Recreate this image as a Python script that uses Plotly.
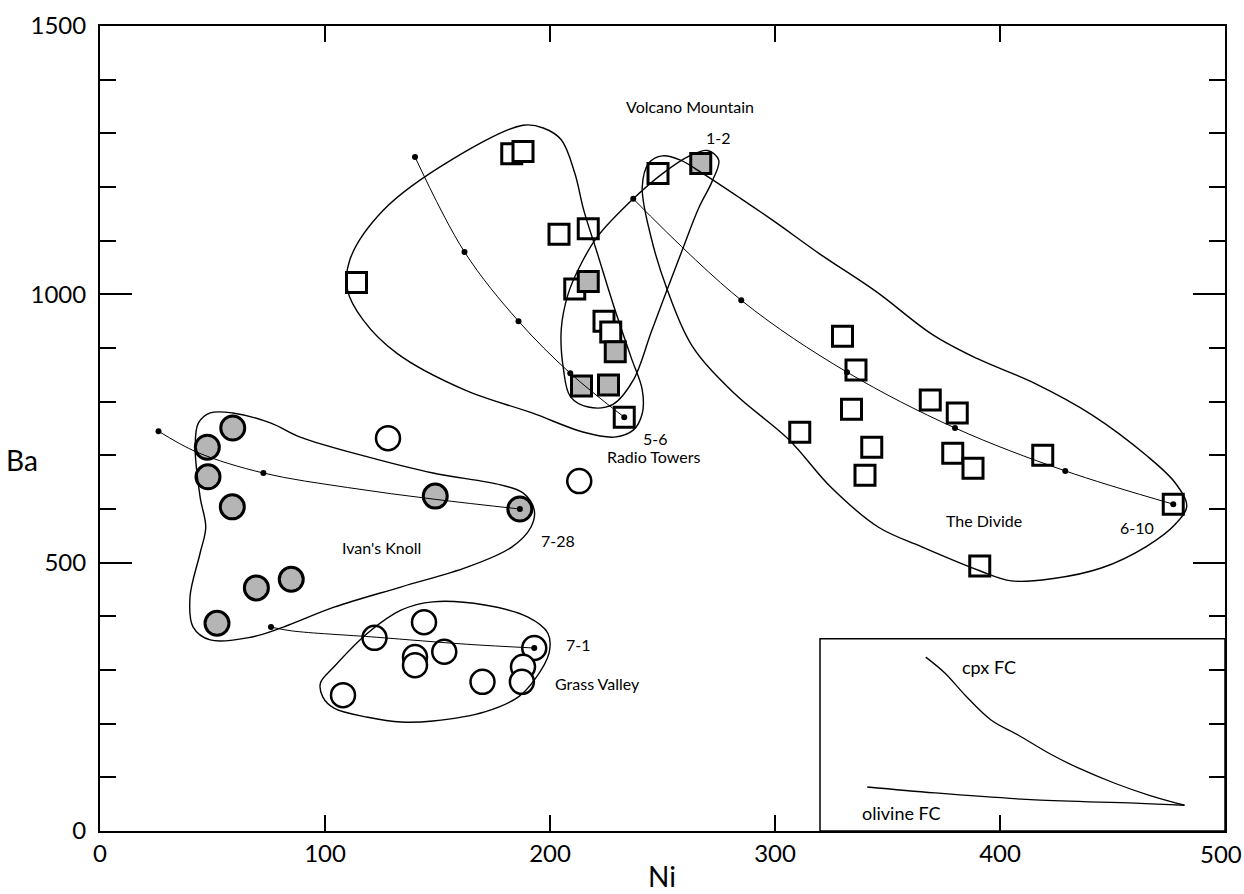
import plotly.graph_objects as go

# ---------------- data (Ni ppm, Ba ppm) ----------------
open_sq_ni = [114, 183, 188, 204, 217, 211, 224, 227, 233, 248,
              330, 336, 334, 311, 343, 340, 369, 381, 379, 388, 419, 391, 477]
open_sq_ba = [1022, 1262, 1266, 1112, 1122, 1010, 950, 930, 771, 1225,
              922, 859, 786, 743, 715, 663, 803, 779, 704, 676, 700, 494, 609]
shaded_sq_ni = [217, 229, 214, 226, 267]
shaded_sq_ba = [1024, 893, 829, 831, 1244]

open_ci_ni = [128, 213, 144, 122, 140, 140, 153, 193, 188, 187.5, 170, 108]
open_ci_ba = [732, 652, 389, 360, 324, 309, 334, 341, 306, 278, 278, 253]
shaded_ci_ni = [59, 47.7, 48, 58.8, 149, 186.6, 85, 69.5, 52]
shaded_ci_ba = [751, 715, 660, 604, 624, 600, 469, 453, 387]

# fractional-crystallisation model curves (line) and their step dots
fc_ivan_ni = [26, 43, 72.6, 110, 149, 186.6]
fc_ivan_ba = [745, 706, 667, 640, 618, 600]
fc_ivan_dot_ni = [26, 72.6, 186.6]
fc_ivan_dot_ba = [745, 667, 600]

fc_grass_ni = [76, 85, 123, 163, 193]
fc_grass_ba = [380, 373, 361, 348, 341]
fc_grass_dot_ni = [76, 193]
fc_grass_dot_ba = [380, 341]

fc_radio_ni = [140, 162, 186, 209, 233]
fc_radio_ba = [1256, 1079, 950, 853, 771]

fc_divide_ni = [237, 285, 332, 380, 429, 477]
fc_divide_ba = [1178, 989, 855, 751, 671, 609]

# group envelopes (closed outlines)
env_big_ni = [188, 156, 126, 111, 110, 117, 132, 162, 192, 215, 228.5, 237, 241, 241,
              236, 228.5, 221, 215, 211, 205, 197, 188]
env_big_ba = [1315, 1250, 1157, 1064, 1008, 952, 890, 822, 779, 743, 734, 747, 778, 822,
              883, 976, 1077, 1157, 1226, 1288, 1310, 1315]

env_radio_ni = [206, 205, 208, 213, 221, 237, 250, 262, 270, 275, 272, 266, 259, 252,
                245, 237, 228, 217, 209, 206]
env_radio_ba = [860, 935, 1000, 1050, 1107, 1178, 1225, 1258, 1268, 1250, 1210, 1160, 1085,
                1008, 930, 840, 795, 790, 810, 860]

env_divide_ni = [241, 244, 250, 258, 268, 285, 300, 320, 345, 370, 390, 415, 441, 465, 478,
                 483, 478, 465, 445, 423, 405, 391, 365, 346, 325, 306, 282, 263, 252, 245, 241]
env_divide_ba = [1200, 1245, 1258, 1250, 1225, 1178, 1135, 1075, 1005, 925, 880, 835, 775,
                 700, 648, 605, 572, 530, 490, 470, 466, 485, 530, 566, 640, 730, 815, 905,
                 1010, 1105, 1200]

env_ivan_ni = [49, 59, 76, 89, 119, 148, 178, 188, 193, 191.5, 183, 163.5, 134, 104, 81.5,
               67, 49, 41.4, 40, 44.5, 47, 44.5, 42.3, 43.7, 49]
env_ivan_ba = [779, 779, 760, 734, 697, 667, 645, 630, 598, 566, 529, 492, 455, 417, 380,
               361, 356, 380, 436, 518, 566, 622, 715, 760, 779]

env_grass_ni = [98, 104, 119, 134, 148, 171, 190, 199, 199.6, 193, 186, 171, 148, 134, 119,
                104, 99, 98]
env_grass_ba = [276, 306, 369, 412, 427, 421, 399, 369, 332, 281, 250, 222, 205, 203, 212,
                229, 250, 276]

# inset: schematic FC vectors
cpx_ni = [367, 375.6, 384.5, 396, 408, 423, 435, 451, 466, 482]
cpx_ba = [324, 294, 253, 207, 179, 142, 117, 89, 67, 48]
ol_ni = [341, 371, 415.6, 460, 482]
ol_ba = [82, 71, 58, 52, 48]

labels = ["Volcano Mountain", "1-2", "5-6", "Radio Towers", "Ivan's Knoll", "7-28",
          "7-1", "Grass Valley", "The Divide", "6-10", "cpx FC", "olivine FC"]
label_ni = [262, 275, 247, 246, 125, 203.5, 212.5, 221, 393, 461, 395, 356]
label_ba = [1350, 1292, 732, 697, 529, 542, 347, 274, 579, 565, 306, 34]

x_ticks = [0, 100, 200, 300, 400, 500]
x_ticktext = ["0", "100", "200", "300", "400", ""]   # last label drawn separately
y_ticks = [0, 500, 1000, 1500]

# ---------------- figure ----------------
FONT = "Lato, 'Open Sans', sans-serif"
W, H = 1244, 894
ML, MR, MT, MB = 100, 19, 26, 63
pw, ph = W - ML - MR, H - MT - MB

fig = go.Figure()

def markers(x, y, symbol, size, fill, lw):
    fig.add_trace(go.Scatter(x=x, y=y, mode="markers", showlegend=False, hoverinfo="skip",
                             cliponaxis=False,
                             marker=dict(symbol=symbol, size=size, color=fill,
                                         line=dict(color="black", width=lw))))

markers(open_sq_ni, open_sq_ba, "square", 20, "white", 3)
markers(shaded_sq_ni, shaded_sq_ba, "square", 20, "#b5b5b5", 3)
markers(open_ci_ni, open_ci_ba, "circle", 24, "white", 2.5)
markers(shaded_ci_ni, shaded_ci_ba, "circle", 24, "#b5b5b5", 3)

def line(x, y, w, smooth=1.0):
    fig.add_trace(go.Scatter(x=x, y=y, mode="lines", showlegend=False, hoverinfo="skip",
                             line=dict(color="black", width=w, shape="spline",
                                       smoothing=smooth)))

for ex, ey in [(env_big_ni, env_big_ba), (env_radio_ni, env_radio_ba),
               (env_divide_ni, env_divide_ba), (env_ivan_ni, env_ivan_ba),
               (env_grass_ni, env_grass_ba)]:
    line(ex, ey, 1.4)

line(fc_ivan_ni, fc_ivan_ba, 1)
line(fc_grass_ni, fc_grass_ba, 1)
line(fc_radio_ni, fc_radio_ba, 1)
line(fc_divide_ni, fc_divide_ba, 1)
line(cpx_ni, cpx_ba, 1.3)
line(ol_ni, ol_ba, 1.3)

dots_ni = fc_ivan_dot_ni + fc_grass_dot_ni + fc_radio_ni + fc_divide_ni
dots_ba = fc_ivan_dot_ba + fc_grass_dot_ba + fc_radio_ba + fc_divide_ba
fig.add_trace(go.Scatter(x=dots_ni, y=dots_ba, mode="markers", showlegend=False,
                         hoverinfo="skip", marker=dict(symbol="circle", size=6, color="black")))

for t, lx, ly in zip(labels, label_ni, label_ba):
    size = 18 if t in ("cpx FC", "olivine FC") else 16
    fig.add_annotation(x=lx, y=ly, text=t, showarrow=False, xref="x", yref="y",
                       font=dict(family=FONT, size=size, color="black"))

# inset frame
fig.add_shape(type="rect", xref="x", yref="y", x0=320, x1=500, y0=0, y1=358,
              line=dict(color="black", width=1.5), fillcolor="rgba(0,0,0,0)")

# last x tick label, nudged inside the page edge
fig.add_annotation(x=x_ticks[-1], xref="x", xshift=-4, y=(H - MB - 853) / ph, yref="paper",
                   text=str(x_ticks[-1]), showarrow=False, xanchor="center", yanchor="middle",
                   font=dict(family=FONT, size=24, color="black"))

# axis titles as horizontal text (paper units computed from pixel targets)
fig.add_annotation(x=(22 - ML) / pw, y=(H - MB - 460) / ph, xref="paper", yref="paper",
                   text="Ba", showarrow=False, xanchor="center", yanchor="middle",
                   font=dict(family=FONT, size=28, color="black"))
fig.add_annotation(x=(662 - ML) / pw, y=(H - MB - 876) / ph, xref="paper", yref="paper",
                   text="Ni", showarrow=False, xanchor="center", yanchor="middle",
                   font=dict(family=FONT, size=28, color="black"))

fig.update_layout(
    width=W, height=H,
    margin=dict(l=ML, r=MR, t=MT, b=MB, autoexpand=False),
    paper_bgcolor="white", plot_bgcolor="white",
    font=dict(family=FONT, size=24, color="black"),
    xaxis=dict(range=[0, 500], tickvals=x_ticks, ticktext=x_ticktext, ticks="inside",
               automargin=False,
               ticklen=16, tickwidth=1.5, tickcolor="black", showline=True, linecolor="black",
               linewidth=2, mirror="ticks", showgrid=False, zeroline=False,
               ticklabeloverflow="allow", tickfont=dict(family=FONT, size=24)),
    yaxis=dict(range=[0, 1500], tickvals=y_ticks, ticks="inside", automargin=False,
               ticklen=32, tickwidth=1.5, tickcolor="black", showline=True, linecolor="black",
               linewidth=2, mirror="ticks", showgrid=False, zeroline=False,
               ticklabeloverflow="allow", ticklabelstandoff=7,
               tickfont=dict(family=FONT, size=24),
               minor=dict(ticks="inside", ticklen=16, tickwidth=1.5, tickcolor="black",
                          dtick=100, showgrid=False)),
)

fig.write_html("out.html", config={"displayModeBar": False},
               post_script="document.body.style.margin='0';"
                           "document.body.style.overflow='hidden';")
